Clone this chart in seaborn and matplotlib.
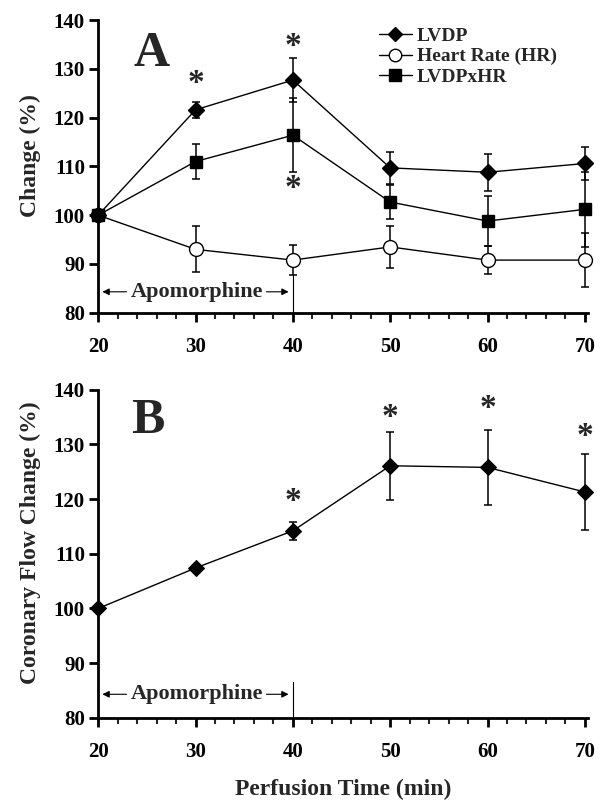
import matplotlib
matplotlib.use("Agg")
import matplotlib.pyplot as plt
import seaborn as sns
import pandas as pd
from matplotlib.ticker import MultipleLocator
from matplotlib.lines import Line2D

time = [20, 30, 40, 50, 60, 70]
lvdp = [100, 121.6, 127.7, 109.7, 108.8, 110.6]
lvdp_err = [0, 1.7, 4.5, 3.3, 3.8, 3.4]
hr = [100, 93.0, 90.8, 93.5, 90.8, 90.8]
hr_err = [0, 4.7, 3.0, 4.3, 2.8, 5.6]
rpp = [100, 111.0, 116.4, 102.7, 98.8, 101.2]
rpp_err = [0, 3.6, 7.6, 3.4, 5.1, 7.7]
flow = [100, 107.4, 114.2, 126.1, 125.8, 121.3]
flow_err = [0, 0.4, 1.7, 6.2, 6.9, 7.0]

star_a_x = [30, 40, 40]
star_a_y = [127.0, 134.5, 105.5]
star_b_x = [40, 50, 60, 70]
star_b_y = [119.5, 135.0, 136.5, 131.5]

sns.set_theme(style="ticks")
plt.rcParams['font.family'] = ['Liberation Serif', 'DejaVu Serif']
plt.rcParams['font.weight'] = 'bold'

fig = plt.figure(figsize=(6.06, 8.02), dpi=100)
axA = fig.add_axes([0.162, 0.610, 0.808, 0.365])
axB = fig.add_axes([0.162, 0.105, 0.808, 0.409])

def style_ax(ax):
    ax.set_xlim(20, 70.3)
    ax.set_ylim(80, 140)
    ax.xaxis.set_major_locator(MultipleLocator(10))
    ax.xaxis.set_minor_locator(MultipleLocator(2))
    ax.yaxis.set_major_locator(MultipleLocator(10))
    for s in ['top', 'right']:
        ax.spines[s].set_visible(False)
    for s in ['left', 'bottom']:
        ax.spines[s].set_linewidth(2)
        ax.spines[s].set_color('black')
    ax.tick_params(axis='both', which='major', direction='out', length=6.5, width=2,
                   labelsize=15, colors='black')
    ax.tick_params(axis='x', which='major', pad=11)
    ax.tick_params(axis='y', which='major', pad=3)
    ax.tick_params(axis='x', which='minor', direction='out', length=4, width=1.5)
    for lab in ax.get_xticklabels() + ax.get_yticklabels():
        lab.set_fontweight('bold')

def apomorphine(ax, vline_top):
    ax.annotate('', xy=(20.15, 84.3), xytext=(23.2, 84.3),
                arrowprops=dict(arrowstyle='-|>', color='black', lw=0.8, mutation_scale=10))
    ax.annotate('', xy=(39.85, 84.3), xytext=(37.0, 84.3),
                arrowprops=dict(arrowstyle='-|>', color='black', lw=0.8, mutation_scale=10))
    ax.text(30.2, 84.3, 'Apomorphine', ha='center', va='center', fontsize=16, fontweight='bold')
    ax.plot([40, 40], [80, vline_top], color='black', lw=0.8)

df = pd.DataFrame({'time': time * 3,
                   'value': lvdp + hr + rpp,
                   'series': ['LVDP'] * 6 + ['Heart Rate (HR)'] * 6 + ['LVDPxHR'] * 6})

ekw = dict(fmt='none', ecolor='black', elinewidth=1.1, capsize=3, capthick=1.1, zorder=2)
axA.errorbar(time, lvdp, yerr=lvdp_err, **ekw)
axA.errorbar(time, hr, yerr=hr_err, **ekw)
axA.errorbar(time, rpp, yerr=rpp_err, **ekw)

sns.lineplot(data=df, x='time', y='value', hue='series', style='series',
             palette={'LVDP': 'black', 'Heart Rate (HR)': 'black', 'LVDPxHR': 'black'},
             markers={'LVDP': 'D', 'Heart Rate (HR)': 'o', 'LVDPxHR': 's'},
             dashes=False, linewidth=1, ax=axA, legend=False, zorder=3)
for ln in axA.get_lines()[-3:]:
    ln.set_markeredgecolor('black')
    ln.set_markeredgewidth(1)
    ln.set_markersize(8)
    if ln.get_marker() == 'o':
        ln.set_markerfacecolor('white')
        ln.set_markersize(10)
    elif ln.get_marker() == 's':
        ln.set_markersize(9)
    ln.set_clip_on(False)

handles = [Line2D([], [], color='black', lw=1, marker='D', ms=7, mfc='black', mec='black'),
           Line2D([], [], color='black', lw=1, marker='o', ms=9, mfc='white', mec='black'),
           Line2D([], [], color='black', lw=1, marker='s', ms=8, mfc='black', mec='black')]
fig.legend(handles, ['LVDP', 'Heart Rate (HR)', 'LVDPxHR'], loc='upper left',
           bbox_to_anchor=(0.625, 0.966), bbox_transform=fig.transFigure,
           frameon=False, handlelength=1.7, borderpad=0, borderaxespad=0,
           handletextpad=0.25, labelspacing=0.15, prop={'weight': 'bold', 'size': 14})

for x, y in zip(star_a_x, star_a_y):
    axA.text(x, y, '*', ha='center', va='center', fontsize=24, fontweight='bold')

axA.text(25.5, 130.6, 'A', fontsize=36, fontweight='bold', ha='center', va='baseline')
apomorphine(axA, 87.7)
axA.set_ylabel('Change (%)', fontsize=17, fontweight='bold', labelpad=9)
axA.yaxis.label.set_y(0.537)
axA.set_xlabel('')
style_ax(axA)

# Panel B
dfb = pd.DataFrame({'time': time, 'value': flow})
axB.errorbar(time, flow, yerr=flow_err, **ekw)
sns.lineplot(data=dfb, x='time', y='value', color='black', marker='D', markersize=8,
             markeredgecolor='black', linewidth=1, ax=axB, zorder=3)
for ln in axB.get_lines():
    ln.set_clip_on(False)
for x, y in zip(star_b_x, star_b_y):
    axB.text(x, y, '*', ha='center', va='center', fontsize=24, fontweight='bold')
axB.text(25.1, 132.1, 'B', fontsize=36, fontweight='bold', ha='center', va='baseline')
apomorphine(axB, 86.5)
axB.set_ylabel('Coronary Flow Change (%)', fontsize=17, fontweight='bold', labelpad=9)
axB.yaxis.label.set_y(0.534)
axB.set_xlabel('Perfusion Time (min)', fontsize=17, fontweight='bold', labelpad=12)
style_ax(axB)

fig.savefig('out.png', dpi=100, facecolor='white')
